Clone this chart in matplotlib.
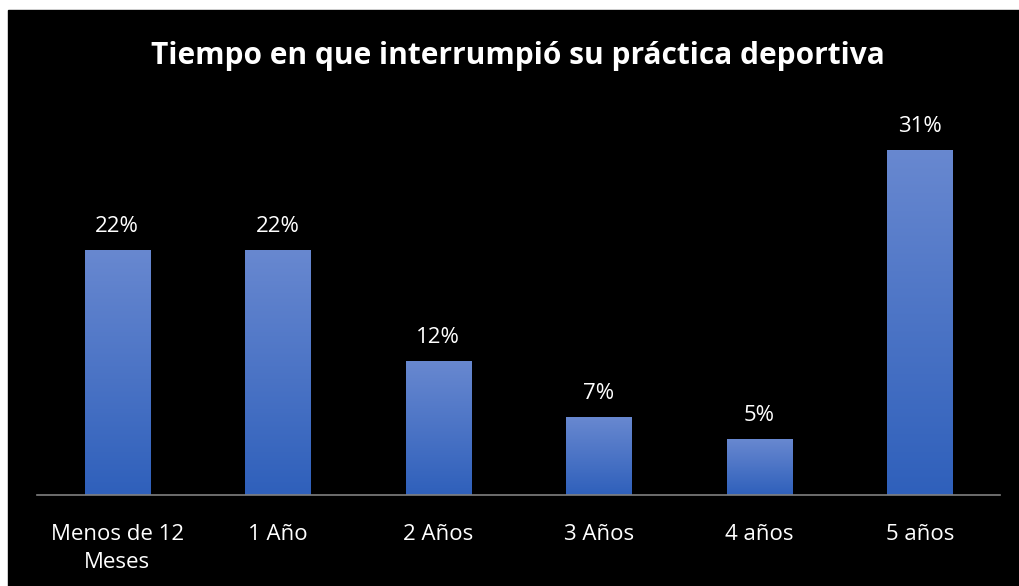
import matplotlib.pyplot as plt
import numpy as np
from matplotlib.colors import LinearSegmentedColormap
from matplotlib.patches import Rectangle

categorias = ['Menos de 12\nMeses', '1 Año', '2 Años', '3 Años', '4 años', '5 años']
porcentajes = [22, 22, 12, 7, 5, 31]
etiquetas = ['22%', '22%', '12%', '7%', '5%', '31%']

plt.rcParams['font.family'] = ['Open Sans', 'DejaVu Sans']

fig = plt.figure(figsize=(10.19, 5.86), dpi=100)
fig.patch.set_facecolor('white')
# fondo negro del gráfico con un pequeño margen blanco arriba e izquierda
fig.patches.append(Rectangle((8 / 1019, 0), 1 - 8 / 1019, 1 - 10 / 586,
                             transform=fig.transFigure, color='black', zorder=0))

ax = fig.add_axes([37 / 1019, 91 / 586, 963 / 1019, 389.5 / 586])
ax.set_facecolor('none')
ax.set_zorder(2)

x = np.arange(len(categorias))
ancho = 0.405
barras = ax.bar(x, porcentajes, ancho, color='none', zorder=2)

# degradado vertical en cada barra: claro arriba, oscuro abajo
degradado = LinearSegmentedColormap.from_list('azul', ['#2F60BB', '#6888D0'])
grad = np.linspace(0, 1, 256).reshape(-1, 1)
for b in barras:
    x0, y0 = b.get_x(), b.get_y()
    ax.imshow(grad, cmap=degradado, origin='lower', aspect='auto',
              extent=[x0, x0 + b.get_width(), y0, y0 + b.get_height()], zorder=2)

for xi, v, t in zip(x, porcentajes, etiquetas):
    ax.text(xi, v + 1.2, t, ha='center', va='bottom', color='white', fontsize=16)

ax.set_xlim(-0.5, len(categorias) - 0.5)
ax.set_ylim(0, 35)
ax.set_xticks(x)
ax.set_xticklabels(categorias, color='white', fontsize=16, linespacing=1.45, va='top')
ax.tick_params(axis='x', length=0, pad=21)
ax.set_yticks([])
for lado in ['top', 'right', 'left']:
    ax.spines[lado].set_visible(False)
ax.spines['bottom'].set_color('#808080')
ax.spines['bottom'].set_linewidth(1.2)

fig.text(518 / 1019, 1 - 56 / 586, 'Tiempo en que interrumpió su práctica deportiva',
         ha='center', va='center', color='white', fontsize=21.5, fontweight='bold')

fig.savefig('out.png', dpi=100, facecolor=fig.get_facecolor())
